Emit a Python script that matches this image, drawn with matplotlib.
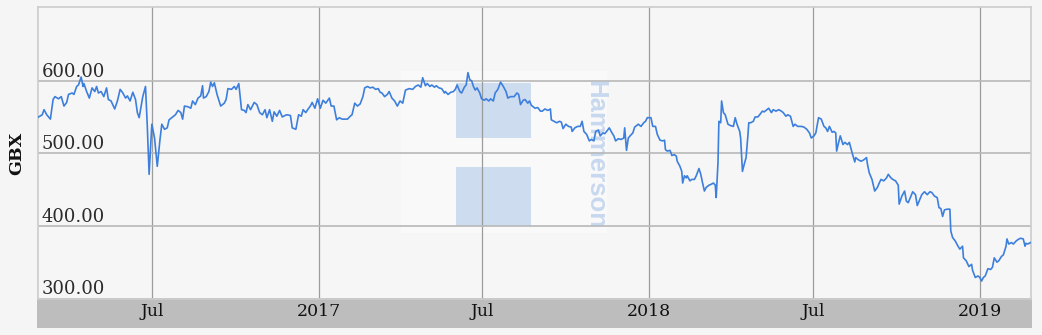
import pandas as pd
import matplotlib
matplotlib.use("Agg")
from matplotlib import pyplot as plt
from matplotlib.patches import Rectangle

# Hammerson share price, GBX.  Each entry: (days since START, close)
START = "2016-02-26"
END = "2019-02-26"

prices_2016 = [
    (1, 550), (5, 553), (7, 560), (10, 553), (14, 547), (17, 574), (19, 578), (23, 575),
    (26, 578), (29, 565), (32, 570), (34, 581), (38, 583), (40, 581), (43, 592), (45, 594),
    (48, 605), (50, 592), (51, 596), (54, 585), (57, 576), (60, 590), (63, 585), (65, 592),
    (67, 583), (70, 585), (73, 578), (76, 590), (78, 574), (81, 572), (85, 561), (88, 572),
    (91, 588), (94, 583), (97, 576), (99, 579), (102, 572), (105, 584), (108, 574), (110, 556),
    (112, 549), (116, 578), (119, 592), (121, 537), (123, 471), (126, 540), (129, 521), (132, 482),
    (135, 519), (137, 540), (140, 533), (143, 535), (145, 546), (148, 549), (152, 553), (155, 559),
    (158, 556), (160, 547), (162, 565), (166, 564), (169, 562), (171, 572), (174, 567), (177, 576),
    (180, 579), (182, 593), (183, 576), (186, 578), (189, 585), (191, 598), (193, 592), (195, 597),
    (198, 581), (202, 565), (206, 569), (208, 574), (210, 589), (214, 588), (217, 592), (219, 588),
    (222, 596), (225, 560), (228, 559), (230, 556), (232, 567), (235, 560), (239, 570), (242, 567),
    (245, 556), (248, 553), (251, 560), (253, 549), (256, 560), (259, 544), (261, 557), (264, 551),
    (267, 559), (270, 550), (273, 552), (275, 553), (279, 552), (281, 535), (285, 533), (288, 553),
    (291, 551), (293, 560), (296, 556), (298, 560), (301, 565), (303, 570), (306, 562), (309, 575),
]

prices_2017 = [
    (312, 562), (315, 573), (318, 569), (322, 576), (324, 565), (327, 565), (330, 546), (333, 549),
    (336, 547), (342, 547), (345, 551), (347, 553), (350, 569), (353, 565), (356, 568), (359, 578),
    (361, 590), (364, 592), (367, 590), (370, 591), (373, 588), (376, 589), (378, 584), (380, 583),
    (383, 578), (386, 581), (388, 585), (391, 576), (394, 572), (397, 565), (400, 572), (403, 569),
    (406, 587), (410, 589), (414, 588), (417, 592), (420, 594), (423, 591), (425, 604), (428, 593),
    (430, 596), (433, 592), (435, 594), (438, 591), (440, 593), (443, 590), (446, 589), (449, 583),
    (450, 585), (453, 581), (456, 584), (459, 585), (461, 588), (463, 594), (466, 585), (468, 583),
    (471, 591), (473, 594), (475, 611), (477, 601), (479, 600), (481, 592), (483, 587), (485, 590),
    (488, 583), (490, 575), (493, 573), (495, 575), (498, 572), (500, 575), (503, 572), (505, 583),
    (508, 588), (511, 598), (514, 592), (517, 585), (519, 576), (522, 578), (526, 578), (529, 583),
    (531, 581), (533, 567), (536, 573), (538, 574), (541, 569), (543, 572), (545, 566), (549, 562),
    (552, 563), (555, 558), (557, 558), (560, 561), (563, 559), (566, 561), (567, 546), (570, 544),
    (573, 542), (576, 544), (578, 543), (580, 534), (583, 540), (586, 537), (589, 536), (590, 530),
    (593, 535), (596, 537), (599, 537), (601, 544), (603, 530), (606, 526), (609, 517), (611, 519),
    (614, 517), (616, 530), (619, 532), (621, 524), (624, 528), (626, 527), (628, 530), (631, 535),
    (634, 528), (636, 524), (638, 517), (641, 520), (644, 519), (647, 521), (648, 535), (650, 504),
    (652, 521), (654, 524), (657, 528), (659, 536), (661, 538), (663, 540), (666, 537), (669, 542),
    (671, 544), (673, 549),
]

prices_2018 = [
    (677, 549), (679, 537), (682, 537), (684, 526), (687, 518), (690, 517), (692, 518), (693, 505),
    (695, 503), (698, 504), (699, 501), (700, 497), (703, 498), (705, 496), (706, 489), (709, 482),
    (711, 475), (712, 459), (714, 469), (716, 466), (717, 469), (720, 462), (722, 464), (725, 464),
    (727, 469), (730, 479), (732, 471), (734, 459), (736, 448), (738, 453), (741, 456), (743, 457),
    (746, 459), (748, 456), (749, 439), (751, 487), (752, 544), (754, 542), (755, 572), (757, 556),
    (759, 553), (762, 540), (765, 538), (768, 537), (770, 549), (772, 540), (775, 530), (776, 521),
    (778, 475), (780, 485), (782, 494), (784, 524), (785, 542), (787, 542), (790, 544), (792, 550),
    (795, 550), (797, 553), (800, 558), (802, 557), (805, 560), (807, 562), (810, 556), (812, 560),
    (815, 558), (818, 560), (821, 558), (823, 556), (826, 551), (828, 553), (831, 551), (834, 537),
    (836, 540), (839, 537), (843, 537), (846, 536), (849, 533), (852, 528), (854, 521), (857, 524),
    (859, 528), (862, 549), (865, 547), (868, 537), (870, 535), (872, 530), (874, 537), (877, 529),
    (879, 530), (881, 528), (882, 503), (884, 514), (886, 524), (889, 512), (891, 515), (894, 512),
    (896, 515), (899, 501), (902, 488), (903, 494), (906, 491), (909, 489), (912, 491), (915, 494),
    (916, 485), (918, 473), (921, 464), (924, 448), (927, 453), (929, 459), (931, 464), (934, 462),
    (937, 466), (939, 471), (942, 466), (944, 464), (947, 462), (950, 456), (951, 430), (954, 441),
    (957, 448), (959, 434), (961, 432), (964, 441), (966, 447), (969, 443), (971, 428), (974, 437),
    (976, 443), (979, 447), (982, 443), (985, 447), (987, 446), (990, 441), (993, 439), (995, 425),
    (997, 424), (999, 413), (1001, 422), (1004, 423), (1007, 423), (1008, 393), (1010, 384), (1013, 379),
    (1016, 372), (1018, 368), (1021, 372), (1022, 356), (1025, 352), (1028, 344), (1031, 347), (1032, 339),
    (1035, 329), (1038, 331),
]

prices_2019 = [
    (1040, 329), (1042, 324), (1044, 329), (1046, 331), (1049, 341), (1052, 340), (1054, 343), (1056, 356),
    (1059, 350), (1061, 352), (1064, 358), (1066, 360), (1069, 372), (1070, 382), (1072, 375), (1075, 377),
    (1077, 375), (1080, 379), (1082, 381), (1085, 383), (1088, 382), (1090, 372), (1091, 376), (1093, 375),
    (1096, 377),
]

tick_dates = ["2016-07-01", "2017-01-01", "2017-07-01", "2018-01-01", "2018-07-01", "2019-01-01"]
tick_labels = ["Jul", "2017", "Jul", "2018", "Jul", "2019"]
y_ticks = [300, 400, 500, 600]

allpts = prices_2016 + prices_2017 + prices_2018 + prices_2019
days = [p[0] for p in allpts]
close = [p[1] for p in allpts]
dates = (pd.Timestamp(START) + pd.to_timedelta(days, unit="D")).to_pydatetime()

W, H = 1042, 335
fig = plt.figure(figsize=(W / 100, H / 100), dpi=100, facecolor="#f5f5f5")
ax = fig.add_axes([37.7 / W, 1 - 298.5 / H, 992.8 / W, 291.2 / H])
ax.set_facecolor("#f6f6f6")

# grey band under the plot holding the date labels (drawn behind the axes)
fig.patches.append(Rectangle((36.7 / W, 1 - 328.3 / H), 995 / W, 29.3 / H,
                             transform=fig.transFigure, facecolor="#bdbdbd",
                             edgecolor="none", zorder=-1))

# Hammerson watermark
wm = "#cedcf0"
ax.add_patch(Rectangle((0.366, 0.225), 0.2075, 0.556, transform=ax.transAxes,
                       facecolor="#f9f9f9", edgecolor="none", zorder=0.2))
ax.add_patch(Rectangle((0.4213, 0.5512), 0.0756, 0.189, transform=ax.transAxes,
                       facecolor=wm, edgecolor="none", zorder=0.3))
ax.add_patch(Rectangle((0.4213, 0.249), 0.0756, 0.2026, transform=ax.transAxes,
                       facecolor=wm, edgecolor="none", zorder=0.3))
ax.text(0.5615, 0.493, "Hammerson", transform=ax.transAxes, rotation=270,
        ha="center", va="center", fontsize=18.5, fontweight="bold",
        family="Liberation Sans", color="#c8d8ee", zorder=0.3)

ax.plot(dates, close, color="#3d7fdc", lw=1.2, zorder=3)

ax.set_xlim(pd.Timestamp(START).to_pydatetime(), pd.Timestamp(END).to_pydatetime())
ax.set_ylim(300, 701)

ax.set_xticks(pd.to_datetime(tick_dates).to_pydatetime())
ax.set_xticklabels(tick_labels, family="DejaVu Serif", fontsize=12.5, color="#111111")
ax.set_yticks(y_ticks)
ax.set_yticklabels([f"{v:.2f}" for v in y_ticks], family="DejaVu Serif",
                   fontsize=13, color="#2b2b2b")
ax.tick_params(axis="x", length=0, pad=3.2)
ax.tick_params(axis="y", length=0, pad=-3)
for t in ax.get_yticklabels():
    t.set_horizontalalignment("left")
    t.set_verticalalignment("bottom")

ax.grid(axis="x", color="#9c9c9c", lw=0.9)
ax.grid(axis="y", color="#b8b8b8", lw=1.2)
for s in ax.spines.values():
    s.set_color("#cccccc")
    s.set_linewidth(1.2)

fig.text(17 / W, 1 - 153 / H, "GBX", rotation=90, ha="center", va="center",
         family="DejaVu Serif", fontweight="bold", fontsize=12.5, color="#111111")

fig.savefig("out.png", dpi=100, facecolor=fig.get_facecolor())
